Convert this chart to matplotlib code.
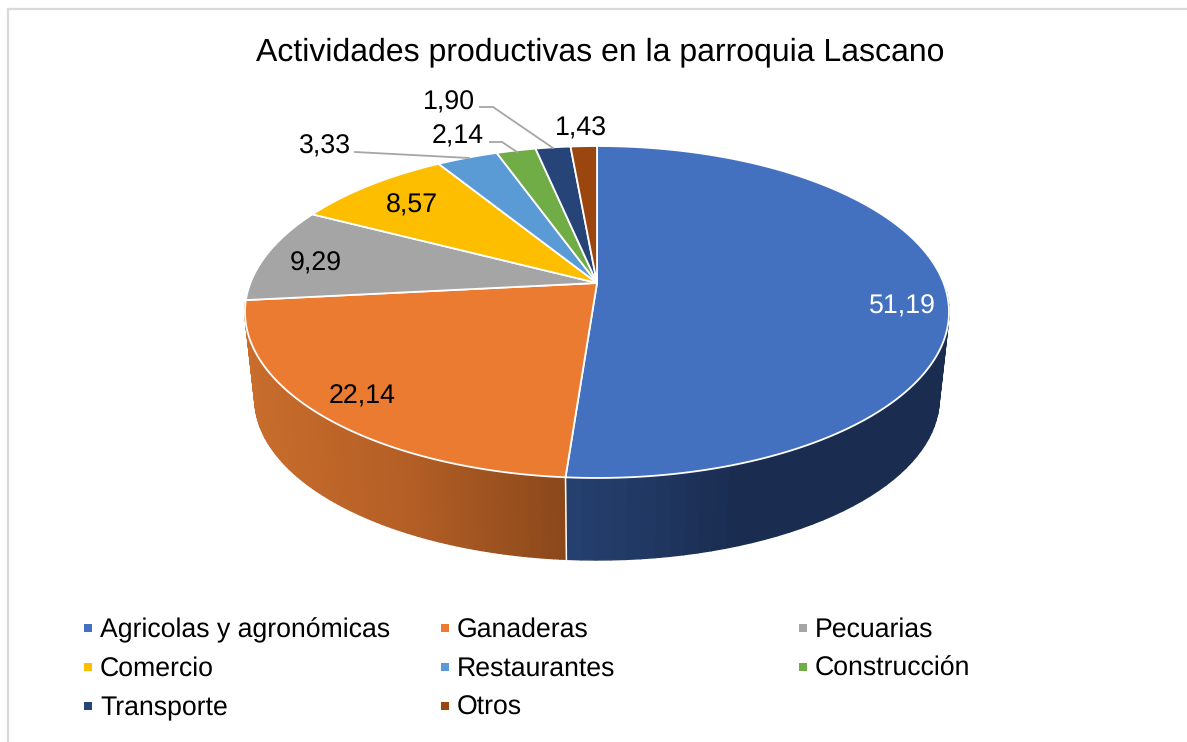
import numpy as np
import matplotlib
matplotlib.use('Agg')
import matplotlib.pyplot as plt

# chart data
categories = ['Agricolas y agronómicas', 'Ganaderas', 'Pecuarias', 'Comercio',
              'Restaurantes', 'Construcción', 'Transporte', 'Otros']
values = [51.19, 22.14, 9.29, 8.57, 3.33, 2.14, 1.90, 1.43]
colors = ['#4371C0', '#EA7B31', '#A5A5A5', '#FDBE00', '#5B9BD5', '#70AD47', '#264478', '#9A460E']

plt.rcParams['font.family'] = ['Liberation Sans', 'DejaVu Sans']
plt.rcParams['text.hinting'] = 'no_hinting'

fig = plt.figure(figsize=(11.87, 7.42), dpi=100)
ax = fig.add_axes([0, 0, 1, 1])
ax.set_xlim(0, 1187)
ax.set_ylim(742, 0)
ax.axis('off')

# chart frame (top and left only are inside the crop)
ax.plot([7.5, 1187], [8.5, 8.5], color='#D9D9D9', lw=1.6)
ax.plot([7.5, 7.5], [8.5, 742], color='#D9D9D9', lw=1.6)

# perspective of the pie
cx, cy = 597, 283
a, b, k = 346.6, 160.9, 0.1747
depth, shrink = 87.5, 0.972


def top_pt(theta):
    u, v = np.sin(theta), np.cos(theta)
    d = 1 + k * v
    return cx + a * u / d, cy - b * v / d


def bottom_pt(theta):
    u, v = np.sin(theta), np.cos(theta)
    d = 1 + k * v
    return cx + shrink * a * u / d, cy + depth - shrink * b * v / d


edges = np.cumsum([0] + values) / sum(values) * 2 * np.pi
edges[-1] = 2 * np.pi


def side_colour(x, anchors, cols):
    rgb = np.array([matplotlib.colors.to_rgb(c) for c in cols])
    return [np.interp(x, anchors, rgb[:, i]) for i in range(3)]


# shaded outer wall, blue and orange are the only slices seen from the front
for i, (x_anchor, col_anchor) in enumerate([
        ([566, 650, 740, 950], ['#26406F', '#203862', '#1A2C4F', '#1A2C4F']),
        ([245, 400, 566], ['#C86D2C', '#B55F26', '#8A481B'])]):
    th = np.linspace(edges[i], edges[i + 1], 90)
    for t0, t1 in zip(th[:-1], th[1:]):
        if np.cos(t0) > 0 or np.cos(t1) > 0:     # back of the wall is hidden
            continue
        x0, y0 = top_pt(t0)
        x1, y1 = top_pt(t1)
        x2, y2 = bottom_pt(t1)
        x3, y3 = bottom_pt(t0)
        c = side_colour((x0 + x1) / 2, x_anchor, col_anchor)
        ax.fill([x0, x1, x2, x3], [y0, y1, y2, y3], color=c, lw=1.0, zorder=2)

# seam between the two walls
x0, y0 = top_pt(edges[1])
x1, y1 = bottom_pt(edges[1])
ax.plot([x0, x1], [y0, y1], color='white', lw=1.1, zorder=3)

# top face
for i in range(len(values)):
    th = np.linspace(edges[i], edges[i + 1], 200)
    xs, ys = top_pt(th)
    ax.fill(np.r_[cx, xs], np.r_[cy, ys], facecolor=colors[i], edgecolor='white',
            lw=1.3, joinstyle='round', zorder=4)

# labels, positions are the baseline of the text
label_pos = [(902, 314), (362, 404), (316, 271), (412, 213), (325, 154), (458, 144), (449, 110), (581, 136)]
for i, (v, p) in enumerate(zip(values, label_pos)):
    txt = ('%.2f' % v).replace('.', ',')
    ax.text(p[0], p[1], txt, fontsize=19.3, ha='center', va='baseline',
            color='white' if i == 0 else 'black', zorder=6)

# leader lines
leaders = [([355, 469], [152, 158]), ([490, 502, 517], [142, 142, 152]), ([480, 493, 553], [107, 107, 148])]
for lx, ly in leaders:
    ax.plot(lx, ly, color='#A6A6A6', lw=1.3, zorder=5)

ax.text(600, 49, 'Actividades productivas en la parroquia Lascano', fontsize=23.0,
        ha='center', va='center_baseline', color='black')

# legend
col_x = [88, 445, 803]
row_y = [628, 667, 706]
for i, name in enumerate(categories):
    x = col_x[i % 3]
    y = row_y[i // 3]
    ax.plot(x, y, marker='s', ms=6, color=colors[i], mew=0, ls='none')
    ax.text(x + 12, y + 9, name, fontsize=19.2, ha='left', va='baseline', color='black')

fig.savefig('out.png', dpi=100)
